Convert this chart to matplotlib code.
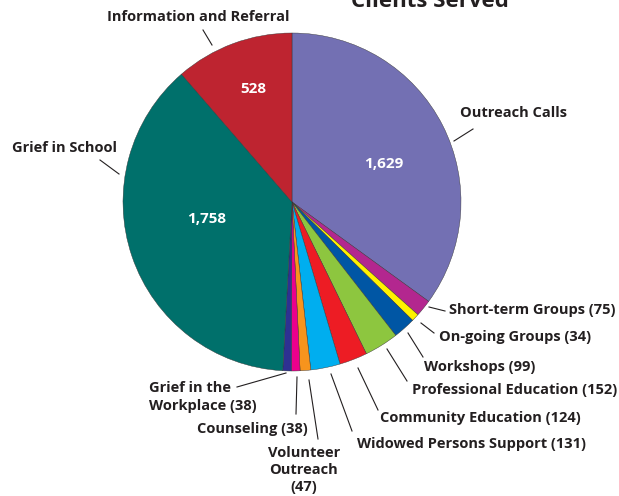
import matplotlib
matplotlib.use("Agg")
import matplotlib.pyplot as plt

categories = ["Outreach Calls", "Short-term Groups", "On-going Groups", "Workshops",
              "Professional Education", "Community Education", "Widowed Persons Support",
              "Volunteer Outreach", "Counseling", "Grief in the Workplace",
              "Grief in School", "Information and Referral"]
values = [1629, 75, 34, 99, 152, 124, 131, 47, 38, 38, 1758, 528]
colors = ["#7370B3", "#B3278F", "#FFF200", "#0056A4", "#8DC63F", "#ED1C24",
          "#00AEEF", "#F7941D", "#EC008C", "#2E3192", "#00706B", "#BE2430"]
outside_labels = ["Outreach Calls", "Short-term Groups (75)", "On-going Groups (34)",
                  "Workshops (99)", "Professional Education (152)",
                  "Community Education (124)", "Widowed Persons Support (131)",
                  "Volunteer\nOutreach\n(47)", "Counseling (38)",
                  "Grief in the\nWorkplace (38)", "Grief in School",
                  "Information and Referral"]
inside_values = {0: "1,629", 10: "1,758", 11: "528"}

W, H = 619, 496
fig = plt.figure(figsize=(W / 100, H / 100), dpi=100)
ax = fig.add_axes([0, 0, 1, 1])

def Y(y):
    return H - y

cx, cy, R = 292, 202, 169
ax.pie(values, colors=colors, startangle=90, counterclock=False,
       center=(cx, Y(cy)), radius=R, frame=True,
       wedgeprops=dict(edgecolor="#333333", linewidth=0.3))
ax.set_xlim(0, W)
ax.set_ylim(0, H)
ax.set_aspect("equal")
ax.axis("off")

txt = "#231F20"
font = "Open Sans"
fs = 10.5

inside_pos = {0: (384, 164), 10: (207, 219), 11: (253, 89)}
for i, s in inside_values.items():
    x, y = inside_pos[i]
    ax.text(x, Y(y), s, color="white", fontsize=11, fontweight="bold",
            family=font, ha="center", va="center")

layout = [
    (460, 113, "left", (454, 141), (473, 129)),
    (449, 310, "left", (429, 307), (445, 311)),
    (439, 337, "left", (421, 323), (434, 333)),
    (424, 367, "left", (408, 333), (423, 357)),
    (412, 390, "left", (387, 349), (407, 381)),
    (380, 418, "left", (358, 368), (378, 410)),
    (357, 444, "left", (331, 374), (352, 431)),
    (304, 470, "center", (309, 380), (318, 439)),
    (252, 429, "center", (297, 377), (296, 414)),
    (149, 397, "left", (286, 373), (237, 387)),
    (12, 148, "left", (119, 174), (100, 160)),
    (198, 17, "center", (212, 45), (203, 30)),
]
for lab, (x, y, ha, p0, p1) in zip(outside_labels, layout):
    ax.text(x, Y(y), lab, color=txt, fontsize=fs, fontweight="bold",
            family=font, ha=ha, va="center", linespacing=1.3,
            multialignment="center" if ha == "center" else "left")
    ax.plot([p0[0], p1[0]], [Y(p0[1]), Y(p1[1])], color=txt, lw=0.8)

ax.text(430, Y(7), "Clients Served", color=txt, fontsize=16, fontweight="bold",
        family=font, ha="center", va="baseline")

fig.savefig("out.png", dpi=100)
